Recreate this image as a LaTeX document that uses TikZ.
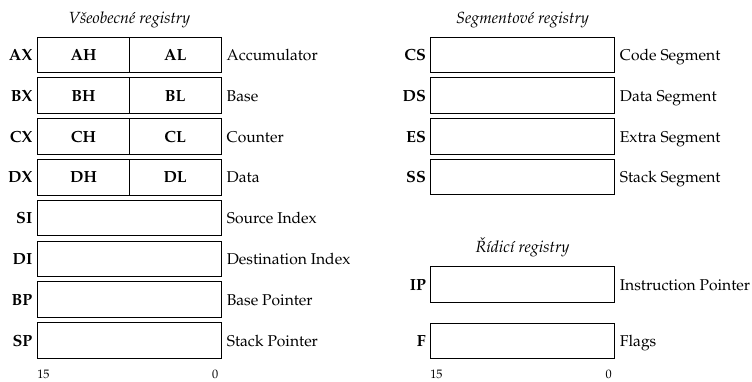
\documentclass[tikz,border=0pt]{standalone}
\usepackage[T1]{fontenc}
\usepackage{mathpazo}
\usetikzlibrary{positioning}

\begin{document}
\begin{tikzpicture}[x=0.62pt, y=-0.62pt]
    % --- styles ---
    \tikzstyle{reg}=[draw, line width=0.6pt, minimum width=113.8pt, minimum height=22pt, inner sep=0pt, text height=7pt, text depth=0pt]
    \tikzstyle{half}=[reg, minimum width=56.9pt, font=\bfseries]
    \tikzstyle{regname}=[inner sep=0pt, text height=7pt, text depth=0pt, font=\bfseries]
    \tikzstyle{regdesc}=[inner sep=0pt, text height=7pt, text depth=0pt, font=\fontsize{9.7pt}{12pt}\selectfont]
    \tikzstyle{grouptitle}=[anchor=base, inner sep=0pt, font=\itshape]
    \tikzstyle{bitnum}=[anchor=base, inner sep=0pt, font=\fontsize{7.6pt}{9pt}\selectfont]

    \useasboundingbox (0,0) rectangle (752,381);

    % 1. Všeobecné registry (split AX..DX)
    \node[grouptitle] (gentitle) at (129.4,23.3) {V\v{s}eobecn\'e registry};
    \foreach \r/\y/\desc [count=\i] in {A/54.9/Accumulator, B/95.7/Base, C/136.5/Counter, D/177.3/Data} {
        \node[half] (\r h) at (83.5,\y) {\r H};
        \node[half] (\r l) at (175.2,\y) {\r L};
        \node[regname, left=2.8pt of \r h] (\r xname) {\r X};
        \node[regdesc, right=3pt of \r l, anchor=west] (\r xdesc) {\desc};
    }

    % 2. index / pointer registers
    \foreach \r/\y/\desc in {SI/218.1/Source Index, DI/258.9/Destination Index, BP/299.7/Base Pointer, SP/340.5/Stack Pointer} {
        \node[reg] (\r) at (129.4,\y) {};
        \node[regname, left=2.8pt of \r] (\r name) {\r};
        \node[regdesc, right=3pt of \r] (\r desc) {\desc};
    }
    \node[bitnum] (genhi) at (43.4,378.3) {15};
    \node[bitnum] (genlo) at (215.3,378.3) {0};

    % 3. Segmentové registry
    \node[grouptitle] (segtitle) at (522.5,23.3) {Segmentov\'e registry};
    \foreach \r/\y/\desc in {CS/54.8/Code Segment, DS/95.6/Data Segment, ES/136.4/Extra Segment, SS/177.2/Stack Segment} {
        \node[reg] (\r) at (522.5,\y) {};
        \node[regname, left=2.5pt of \r] (\r name) {\r};
        \node[regdesc, right=3pt of \r] (\r desc) {\desc};
    }

    % 4. Řídicí registry
    \node[grouptitle] (ctltitle) at (522.5,252.3) {\v{R}\'{\i}dic\'{\i} registry};
    \foreach \r/\y/\desc in {IP/284.5/Instruction Pointer, F/340.8/Flags} {
        \node[reg] (\r) at (522.5,\y) {};
        \node[regname, left=2.5pt of \r] (\r name) {\r};
        \node[regdesc, right=3pt of \r] (\r desc) {\desc};
    }
    \node[bitnum] (ctlhi) at (436.4,378.3) {15};
    \node[bitnum] (ctllo) at (608.6,378.3) {0};

\end{tikzpicture}
\end{document}
